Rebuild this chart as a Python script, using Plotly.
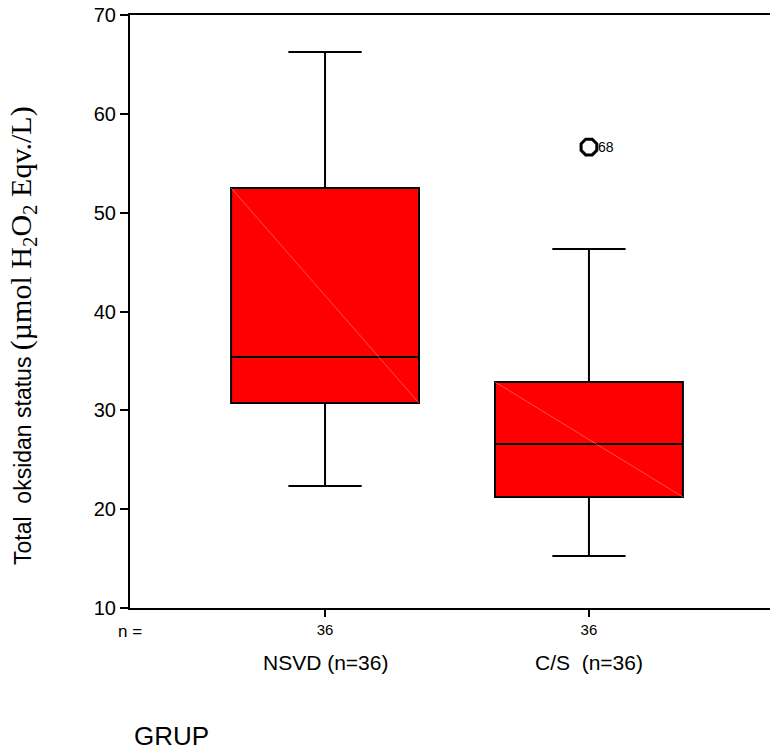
import plotly.graph_objects as go

# ---- data ----
groups = ["NSVD (n=36)", "C/S  (n=36)"]
counts = ["36", "36"]
positions = [0, 1]
lower_whisker = [22.34, 15.26]
q1_vals = [30.74, 21.23]
medians = [35.4, 26.59]
q3_vals = [52.5, 32.87]
upper_whisker = [66.26, 46.32]
outlier_group = [1]
outlier_values = [56.64]
outlier_labels = ["68"]

SANS = "Liberation Sans, Arial, sans-serif"
box_w = 0.712

fig = go.Figure()
for i in range(len(groups)):
    fig.add_trace(go.Box(
        x=[positions[i]],
        q1=[q1_vals[i]], median=[medians[i]], q3=[q3_vals[i]],
        lowerfence=[lower_whisker[i]], upperfence=[upper_whisker[i]],
        width=box_w, whiskerwidth=0.39,
        fillcolor="#ff0000",
        line=dict(color="black", width=2),
        boxpoints=False, showlegend=False, hoverinfo="skip",
    ))
    # faint diagonal rendering artefact inside each box
    fig.add_shape(type="line",
                  x0=positions[i] - box_w / 2, y0=q3_vals[i],
                  x1=positions[i] + box_w / 2, y1=q1_vals[i],
                  line=dict(color="rgba(255,130,130,0.6)", width=1), layer="above")

fig.add_trace(go.Scatter(
    x=[positions[g] for g in outlier_group], y=outlier_values,
    mode="markers", marker=dict(symbol="octagon-open", size=17, color="black",
                                line=dict(width=3, color="black")),
    showlegend=False, hoverinfo="skip",
))

fig.update_xaxes(
    range=[-0.739, 1.686], tickvals=positions, ticktext=counts,
    ticks="outside", ticklen=7, tickwidth=2, tickcolor="black",
    showline=True, linewidth=2, linecolor="black", mirror=True,
    showgrid=False, zeroline=False,
    tickfont=dict(family=SANS, size=15, color="black"),
)
fig.update_yaxes(
    range=[10, 70], dtick=10, tick0=10,
    ticks="outside", ticklen=8, tickwidth=2, tickcolor="black",
    showline=True, linewidth=2, linecolor="black",
    showgrid=False, zeroline=False,
    tickfont=dict(family=SANS, size=20, color="black"),
)

H = 755; T = 15; B = 147
ph = H - T - B
PW = 640
def py(pix):
    return (H - B - pix) / ph
def px(pix):
    return (pix - 130) / PW

annots = []
for i in range(len(groups)):
    annots.append(dict(x=positions[i], y=py(662), xref="x", yref="paper",
                       text=groups[i], showarrow=False, yanchor="middle",
                       font=dict(family=SANS, size=21, color="black")))
for g, v, lab in zip(outlier_group, outlier_values, outlier_labels):
    annots.append(dict(x=positions[g], y=v, xref="x", yref="y", xanchor="left", yanchor="middle",
                       xshift=7, text=lab, showarrow=False,
                       font=dict(family=SANS, size=14, color="black")))
annots.append(dict(x=px(116), y=py(631), xref="paper", yref="paper", xanchor="left", yanchor="middle",
                   text="n =", showarrow=False, font=dict(family=SANS, size=17, color="black")))
annots.append(dict(x=px(132), y=py(736), xref="paper", yref="paper", xanchor="left", yanchor="middle",
                   text="GRUP", showarrow=False, font=dict(family=SANS, size=26, color="black")))
annots.append(dict(x=px(23), y=py(336), xref="paper", yref="paper", xanchor="center", yanchor="middle",
                   textangle=-90, showarrow=False,
                   text=("Total  oksidan status "
                         "<span style=\"font-family:'Liberation Serif','Times New Roman',serif;font-size:30px\">"
                         "(µmol H<sub>2</sub>O<sub>2</sub> Eqv./L)</span>"),
                   font=dict(family=SANS, size=23, color="black")))

fig.update_layout(
    width=770, height=755,
    margin=dict(l=130, r=0, t=15, b=147),
    paper_bgcolor="white", plot_bgcolor="white",
    annotations=annots, showlegend=False,
)

fig.write_html("out.html")
